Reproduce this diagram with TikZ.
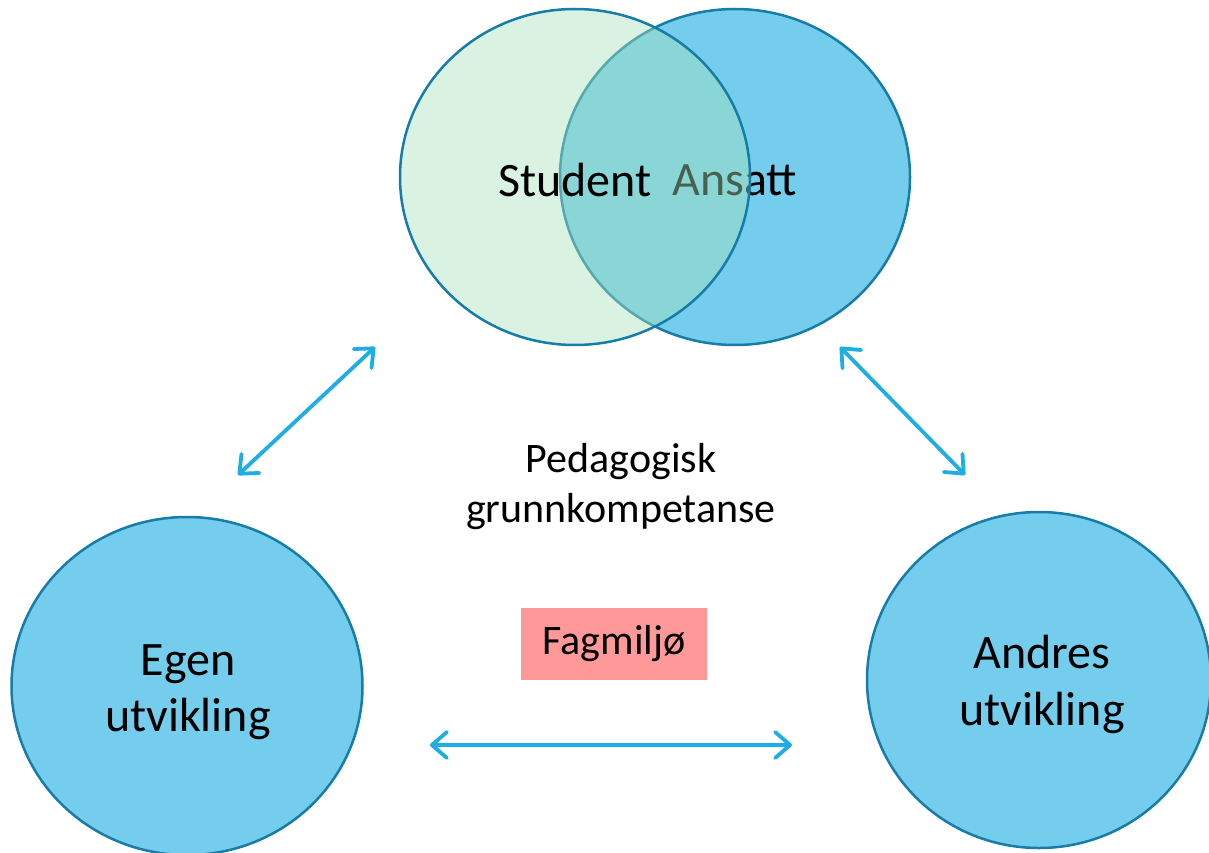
\documentclass[tikz,border=0pt]{standalone}
\usepackage{fontspec}
\setmainfont{Carlito}
\usetikzlibrary{shapes.geometric}
\usetikzlibrary{arrows.meta}
\usetikzlibrary{positioning}
\definecolor{ringblue}{HTML}{177CA6}
\definecolor{discblue}{HTML}{75CDEE}
\definecolor{paleg}{RGB}{167,226,185}
\definecolor{arrowblue}{HTML}{1EADE4}
\definecolor{boxred}{HTML}{FF9999}
\tikzset{x=1pt, y=-1pt,
         disc/.style={ellipse, draw=ringblue, line width=2.5pt, inner sep=0pt,
                      align=center, font=\fontsize{48}{56}\selectfont},
         label text/.style={align=center, font=\fontsize{42}{50}\selectfont},
         every edge/.style={draw, arrowblue, line width=3.8pt, line cap=round,
                            {Straight Barb[length=15pt, width=26pt, round]}-{Straight Barb[length=15pt, width=26pt, round]}} }

\begin{document}
\begin{tikzpicture}
    \useasboundingbox (0,0) rectangle (1209,853);
    \node[disc, fill=discblue, minimum width=350pt, minimum height=336pt] (a) at (735,177) {};
    \node[font=\fontsize{48}{56}\selectfont] (at) at (735,180) {Ansatt};
    \node[disc, fill=paleg, fill opacity=0.43, text opacity=1,
          minimum width=350pt, minimum height=336pt] (s) at (575,177) {};
    \node[font=\fontsize{48}{56}\selectfont] (st) at (575,180) {Student};
    \node[disc, fill=discblue, minimum width=351pt, minimum height=338pt] (e) at (187,686) {};
    \node[align=center, font=\fontsize{48}{56}\selectfont] (et) at (188,692) {Egen\\utvikling};
    \node[disc, fill=discblue, minimum width=344pt, minimum height=336pt] (o) at (1039,680) {};
    \node[align=center, font=\fontsize{48}{57}\selectfont] (ot) at (1042,684) {Andres\\utvikling};
    \node[label text] (p) at (621,487) {Pedagogisk\\grunnkompetanse};
    \node[label text, fill=boxred, minimum width=186pt, minimum height=72pt, inner sep=0pt] (f) at (614,644) {Fagmiljø};
    \coordinate (l1) at (238,475);
    \coordinate (l2) at (375,347);
    \coordinate (r1) at (840,347);
    \coordinate (r2) at (965,475);
    \coordinate (h1) at (430,745);
    \coordinate (h2) at (792,745);
    \draw (l1) edge (l2);
    \draw (r1) edge (r2);
    \draw (h1) edge (h2);
\end{tikzpicture}
\end{document}
